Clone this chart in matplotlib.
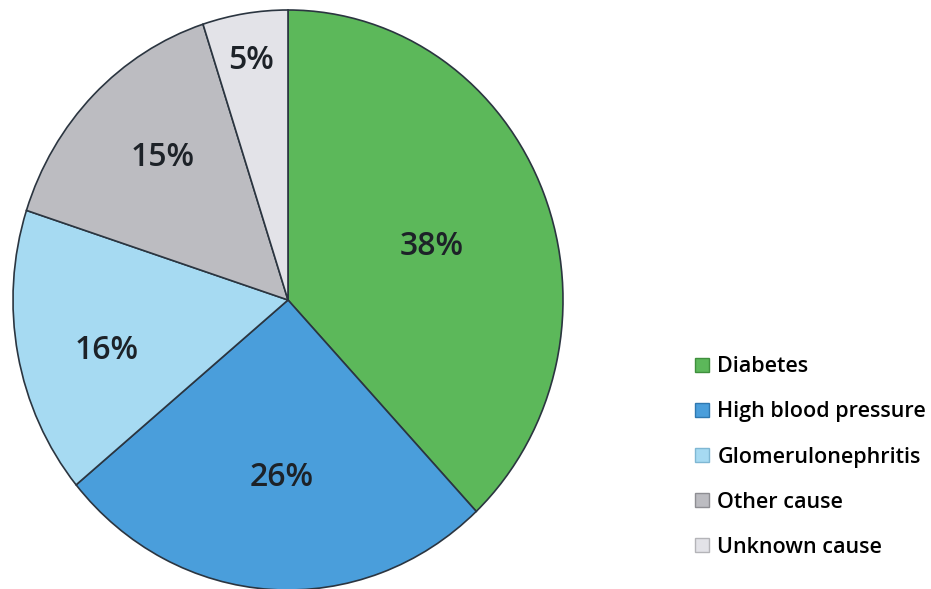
import matplotlib.pyplot as plt
from matplotlib.patches import Patch
import numpy as np

plt.rcParams['font.family'] = ['Open Sans', 'DejaVu Sans']

causes = ['Diabetes', 'High blood pressure', 'Glomerulonephritis',
          'Other cause', 'Unknown cause']
shares = [38, 26, 16, 15, 5]
colors = ['#5cb85a', '#4a9edb', '#a6daf2', '#bcbcc1', '#e3e3e8']
edge_colors = ['#3f8f3d', '#2f78b0', '#7fb7d3', '#8e8e93', '#b4b4b8']
# where each percentage sits: fraction of the radius, and a small turn off the wedge middle
label_radius = [0.56, 0.60, 0.68, 0.68, 0.85]
label_turn = [-1.0, 1.5, 2.8, -3.0, 0.0]

fig = plt.figure(figsize=(9.31, 5.89), dpi=100)
ax = fig.add_axes([13 / 931, -1 / 589, 550 / 931, 580 / 589])

wedges, _ = ax.pie(shares, colors=colors, startangle=90, counterclock=False,
                   wedgeprops=dict(edgecolor='#2b3540', linewidth=1.2))
ax.set_aspect('auto')
ax.set_xlim(-1, 1)
ax.set_ylim(-1, 1)

for w, val, r, turn in zip(wedges, shares, label_radius, label_turn):
    mid = np.deg2rad((w.theta1 + w.theta2) / 2 + turn)
    ax.text(r * np.cos(mid), r * np.sin(mid), f'{val}%', ha='center',
            va='center_baseline', fontsize=23, fontweight='semibold', color='#1d2228')

handles = [Patch(facecolor=c, edgecolor=e, linewidth=1.0)
           for c, e in zip(colors, edge_colors)]
fig.legend(handles, causes, loc='upper left', bbox_to_anchor=(676 / 931, 1 - 337 / 589),
           frameon=False, handlelength=0.62, handleheight=0.62,
           handletextpad=0.4, labelspacing=1.12, prop=dict(weight='semibold', size=15.5))

fig.savefig('out.png', dpi=100)
